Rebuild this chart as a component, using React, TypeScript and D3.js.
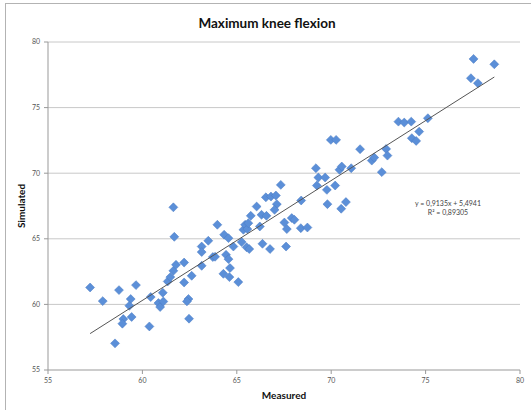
import React from "react";
import * as d3 from "d3";

const measured = [
  57.23, 57.9, 58.76, 59.66, 59.38, 59.31, 58.99, 58.94, 59.43, 58.55,
  60.44, 60.37, 60.85, 60.94, 61.11, 61.08, 61.34, 61.48, 61.64, 61.78,
  61.64, 61.69, 62.21, 62.21, 62.61, 62.44, 62.36, 62.47, 63.14, 63.14,
  63.14, 63.49, 63.97, 63.73, 63.85, 64.33, 64.56, 64.43, 64.56, 64.64,
  64.29, 64.61, 65.08, 64.82, 65.26, 65.35, 65.44, 65.52, 65.56, 65.61,
  65.66, 65.74, 66.05, 66.22, 66.31, 66.36, 66.54, 66.57, 66.81, 67.07,
  67.12, 67.0, 66.76, 67.33, 67.52, 67.65, 67.61, 67.91, 68.05, 68.39,
  68.74, 68.41, 69.19, 69.32, 69.68, 69.24, 69.77, 70.21, 69.8, 70.53,
  70.78, 69.98, 70.26, 70.44, 70.56, 71.06, 71.53, 72.15, 72.28, 72.68,
  72.91, 72.98, 73.56, 73.87, 74.24, 74.66, 74.27, 74.5, 75.12, 77.54,
  78.64, 77.4, 77.77,
];
const simulated = [
  61.29, 60.25, 61.09, 61.47, 60.41, 59.9, 58.88, 58.53, 59.04, 57.03,
  60.56, 58.32, 60.1, 59.8, 60.22, 60.89, 61.75, 62.08, 62.56, 63.02,
  67.4, 65.15, 63.19, 61.67, 62.18, 60.41, 60.23, 58.91, 64.41, 63.99,
  62.94, 64.85, 66.07, 63.61, 63.63, 65.31, 65.05, 63.78, 63.45, 62.77,
  62.33, 62.08, 61.7, 64.41, 64.75, 65.69, 66.07, 64.35, 65.74, 66.19,
  64.22, 66.75, 67.46, 65.94, 66.83, 64.62, 68.16, 66.75, 68.22, 68.3,
  67.64, 67.21, 64.22, 69.11, 66.24, 65.74, 64.41, 66.58, 66.45, 65.81,
  65.86, 67.92, 70.38, 69.67, 69.67, 69.06, 68.73, 69.06, 67.64, 67.29,
  67.8, 72.54, 72.54, 70.26, 70.51, 70.38, 71.83, 70.96, 71.19, 70.08,
  71.85, 71.34, 73.93, 73.86, 73.93, 73.17, 72.67, 72.46, 74.19, 78.71,
  78.3, 77.24, 76.86,
];
const axisTicks = [55, 60, 65, 70, 75, 80];
const slope = 0.9135;
const intercept = 5.4941;
const equationLabel = "y = 0,9135x + 5,4941";
const r2Label = "R² = 0,89305";

const width = 531;
const height = 410;
const margin = { top: 42, right: 11, bottom: 40, left: 48 };
const font = "Lato, 'Open Sans', sans-serif";

export default function App() {
  const x = d3
    .scaleLinear()
    .domain([55, 80])
    .range([margin.left, width - margin.right]);
  const y = d3
    .scaleLinear()
    .domain([55, 80])
    .range([height - margin.bottom, margin.top]);

  const data = measured.map((m, i) => ({ m, s: simulated[i] }));
  const [xMin, xMax] = d3.extent(measured) as [number, number];
  const fit = d3
    .line<number>()
    .x((d) => x(d))
    .y((d) => y(slope * d + intercept));

  const diamond = d3.symbol().type(d3.symbolSquare).size(40)();

  return (
    <svg
      width={width}
      height={height}
      style={{ position: "absolute", left: 0, top: 0, background: "#fff" }}
    >
      <rect x={5.5} y={3.5} width={600} height={600} fill="none" stroke="#b3b3b3" />
      <text
        x={267}
        y={28}
        textAnchor="middle"
        fontFamily={font}
        fontWeight="bold"
        fontSize={13.5}
        fill="#111"
      >
        Maximum knee flexion
      </text>

      {/* gridlines + y ticks */}
      {axisTicks.map((t) => (
        <g key={"y" + t} transform={`translate(0,${y(t)})`}>
          {t > 55 && (
            <line x1={x(55)} x2={x(80)} stroke="#c8c8c8" strokeWidth={1} />
          )}
          <line x1={x(55) - 4} x2={x(55)} stroke="#999" />
          <text
            x={x(55) - 8}
            dy="0.35em"
            textAnchor="end"
            fontFamily={font}
            fontSize={7}
            fill="#555"
          >
            {t}
          </text>
        </g>
      ))}

      {/* x ticks */}
      {axisTicks.map((t) => (
        <g key={"x" + t} transform={`translate(${x(t)},${y(55)})`}>
          <line y1={0} y2={4} stroke="#999" />
          <text
            y={13}
            textAnchor="middle"
            fontFamily={font}
            fontSize={7}
            fill="#555"
          >
            {t}
          </text>
        </g>
      ))}

      <line x1={x(55)} x2={x(55)} y1={y(80)} y2={y(55)} stroke="#999" />
      <line x1={x(55)} x2={x(80)} y1={y(55)} y2={y(55)} stroke="#999" />

      {/* points */}
      {data.map((d, i) => (
        <path
          key={i}
          d={diamond as string}
          transform={`translate(${x(d.m)},${y(d.s)}) rotate(45)`}
          fill="#5b8fd8"
          stroke="#4a7cc4"
          strokeWidth={0.5}
        />
      ))}

      {/* trend line */}
      <path d={fit([xMin, xMax]) as string} fill="none" stroke="#555" strokeWidth={1} />

      <text
        x={448}
        y={206}
        textAnchor="middle"
        fontFamily={font}
        fontSize={7}
        fill="#444"
      >
        {equationLabel}
      </text>
      <text
        x={448}
        y={215}
        textAnchor="middle"
        fontFamily={font}
        fontSize={7}
        fill="#444"
      >
        {r2Label}
      </text>

      <text
        transform={`translate(25,${(y(55) + y(80)) / 2}) rotate(-90)`}
        textAnchor="middle"
        fontFamily={font}
        fontWeight="bold"
        fontSize={10}
        fill="#111"
      >
        Simulated
      </text>
      <text
        x={(x(55) + x(80)) / 2}
        y={399}
        textAnchor="middle"
        fontFamily={font}
        fontWeight="bold"
        fontSize={10}
        fill="#111"
      >
        Measured
      </text>
    </svg>
  );
}
